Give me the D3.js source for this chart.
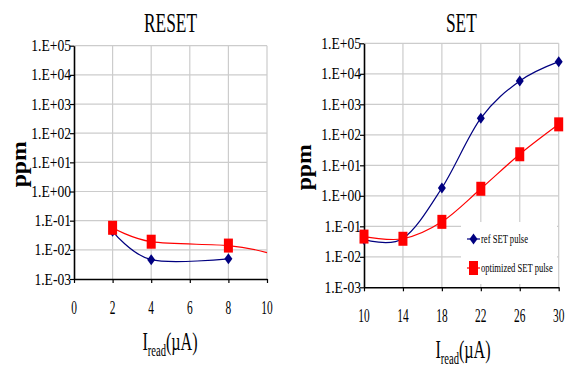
<!DOCTYPE html>
<html>
<head>
<meta charset="utf-8">
<script src="https://cdn.jsdelivr.net/npm/d3@7"></script>
<style>
  html, body { margin: 0; padding: 0; background: #fff; }
  svg { display: block; font-family: "Liberation Serif", "Times New Roman", serif; }
</style>
</head>
<body>
<svg id="chart" width="574" height="371"></svg>
<script>
// tick values shared by both panels
const yTicks = [1e-3, 1e-2, 1e-1, 1e0, 1e1, 1e2, 1e3, 1e4, 1e5];
const yTickLabels = ['1.E-03', '1.E-02', '1.E-01', '1.E+00', '1.E+01', '1.E+02', '1.E+03', '1.E+04', '1.E+05'];

// RESET panel
const resetXTicks = [0, 2, 4, 6, 8, 10];
const resetRefX = [2, 4, 8];
const resetRef = [0.043, 0.0046, 0.0049];
const resetOptX = [2, 4, 8];
const resetOpt = [0.057, 0.019, 0.014];
const resetOptTailX = [10];
const resetOptTail = [0.008];

// SET panel
const setXTicks = [10, 14, 18, 22, 26, 30];
const setX = [10, 14, 18, 22, 26, 30];
const setRef = [0.037, 0.040, 1.8, 350, 5800, 25000];
const setOpt = [0.046, 0.039, 0.14, 1.7, 23, 220];

const seriesNames = ['ref SET pulse', 'optimized SET pulse'];

const blue = '#000080', red = '#ff0000';
const svg = d3.select('#chart');

// text squeezed horizontally like the original
function label(g, x, y, str, size, sx, anchor, weight) {
  return g.append('text')
    .attr('transform', 'translate(' + x + ',' + y + ') scale(' + sx + ',1)')
    .attr('text-anchor', anchor || 'middle')
    .attr('font-size', size)
    .attr('font-weight', weight || 'normal')
    .attr('fill', '#000')
    .text(str);
}

function diamond(g, x, y) {
  g.append('path')
    .attr('d', 'M' + x + ',' + (y - 5.5) + 'L' + (x + 4) + ',' + y + 'L' + x + ',' + (y + 5.5) + 'L' + (x - 4) + ',' + y + 'Z')
    .attr('fill', blue);
}
function square(g, x, y) {
  g.append('rect')
    .attr('x', x - 4.5).attr('y', y - 7)
    .attr('width', 9).attr('height', 14)
    .attr('fill', red);
}

function drawPanel(opt) {
  const g = svg.append('g');
  const x = d3.scaleLinear().domain(opt.xDomain).range([opt.left, opt.right]);
  const y = d3.scaleLog().domain([1e-3, 1e5]).range([opt.bottom, opt.top]);

  // gridlines
  g.selectAll('.hg').data(yTicks.slice(1)).enter().append('line')
    .attr('x1', opt.left).attr('x2', opt.right)
    .attr('y1', d => y(d)).attr('y2', d => y(d))
    .attr('stroke', '#cccccc').attr('stroke-width', 1.2);
  g.selectAll('.vg').data(opt.xTicks.slice(1)).enter().append('line')
    .attr('x1', d => x(d)).attr('x2', d => x(d))
    .attr('y1', opt.top).attr('y2', opt.bottom)
    .attr('stroke', '#cccccc').attr('stroke-width', 1.2);

  // axes
  const ya = g.append('g').attr('transform', 'translate(' + opt.left + ',0)')
    .call(d3.axisLeft(y).tickValues(yTicks).tickFormat('').tickSize(4).tickSizeOuter(0));
  const xa = g.append('g').attr('transform', 'translate(0,' + opt.bottom + ')')
    .call(d3.axisBottom(x).tickValues(opt.xTicks).tickFormat('').tickSize(4).tickSizeOuter(0));
  [ya, xa].forEach(a => {
    a.select('.domain').attr('stroke', '#000').attr('stroke-width', 1.6);
    a.selectAll('.tick line').attr('stroke', '#000').attr('stroke-width', 1.2);
  });

  yTicks.forEach((t, i) => label(g, opt.left - 3, y(t) + 5.5, yTickLabels[i], 17, 0.8, 'end'));
  opt.xTicks.forEach(t => label(g, x(t), opt.bottom + 35, String(t), 19, 0.6));

  // title and axis titles
  label(g, (opt.left + opt.right) / 2, 32, opt.title, 28, 0.62);
  g.append('text')
    .attr('transform', 'translate(' + opt.yTitleX + ',' + ((opt.top + opt.bottom) / 2 + 2) + ') rotate(-90)')
    .attr('text-anchor', 'middle').attr('font-size', 20).attr('font-weight', 'bold')
    .attr('textLength', 46).attr('lengthAdjust', 'spacingAndGlyphs')
    .text('ppm');
  const xt = g.append('text')
    .attr('transform', 'translate(' + opt.xTitleX + ',' + opt.xTitleY + ') scale(0.62,1)')
    .attr('text-anchor', 'middle').attr('font-size', 26);
  xt.append('tspan').text('I');
  xt.append('tspan').attr('font-size', 17).attr('dy', 6).text('read');
  xt.append('tspan').attr('dy', -6).text('(\u00b5A)');

  const line = d3.line().x(d => x(d[0])).y(d => y(d[1])).curve(d3.curveCatmullRom.alpha(0));
  opt.series.forEach(s => {
    const pts = s.x.map((v, i) => [v, s.y[i]]).concat(s.tailX ? s.tailX.map((v, i) => [v, s.tailY[i]]) : []);
    g.append('path').datum(pts).attr('d', line)
      .attr('fill', 'none').attr('stroke', s.color).attr('stroke-width', 1.2);
  });
  opt.series.forEach(s => {
    s.x.forEach((v, i) => s.marker(g, x(v), y(s.y[i])));
  });
  return { g, x, y };
}

drawPanel({
  title: 'RESET', left: 74, right: 267, top: 45.7, bottom: 279,
  xDomain: [0, 10], xTicks: resetXTicks, yTitleX: 26, xTitleX: 170, xTitleY: 350,
  series: [
    { x: resetRefX, y: resetRef, color: blue, marker: diamond },
    { x: resetOptX, y: resetOpt, tailX: resetOptTailX, tailY: resetOptTail, color: red, marker: square }
  ]
});

const set = drawPanel({
  title: 'SET', left: 364, right: 558.7, top: 43.3, bottom: 287.3,
  xDomain: [10, 30], xTicks: setXTicks, yTitleX: 311, xTitleX: 463, xTitleY: 358,
  series: [
    { x: setX, y: setRef, color: blue, marker: diamond },
    { x: setX, y: setOpt, color: red, marker: square }
  ]
});

// legend
const lg = set.g.append('g');
lg.append('rect').attr('x', 461).attr('y', 222).attr('width', 96).attr('height', 62).attr('fill', '#fff');
[blue, red].forEach((c, i) => {
  const ly = 239 + i * 29;
  lg.append('line').attr('x1', 467).attr('x2', 480).attr('y1', ly).attr('y2', ly)
    .attr('stroke', c).attr('stroke-width', 1.2);
  (i === 0 ? diamond : square)(lg, 473.5, ly);
  label(lg, 481, ly + 4, seriesNames[i], 13, 0.66, 'start');
});
</script>
</body>
</html>
